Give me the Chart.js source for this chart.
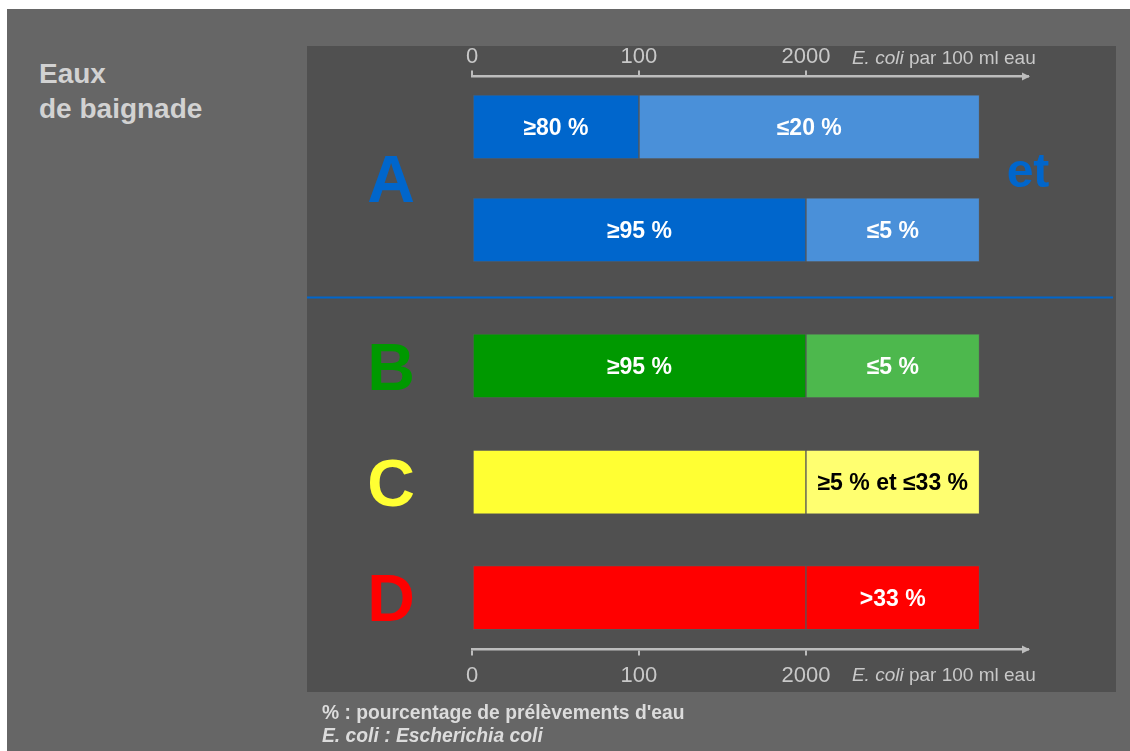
<!DOCTYPE html>
<html lang="fr">
<head>
<meta charset="utf-8">
<title>Eaux de baignade</title>
<script src="https://cdn.jsdelivr.net/npm/chart.js@4.4.1/dist/chart.umd.min.js"></script>
<style>
    html, body { margin: 0; padding: 0; }
    body {
        width: 1130px; height: 751px; background: #666666;
        position: relative; overflow: hidden;
        font-family: "Liberation Sans", Arial, sans-serif;
    }
    .strip-top { position: absolute; left: 0; top: 0; width: 1130px; height: 9px; background: #fff; }
    .strip-left { position: absolute; left: 0; top: 0; width: 7px; height: 751px; background: #fff; }
    .title {
        position: absolute; left: 39px; top: 56px;
        color: #d2d2d2; font-weight: bold; font-size: 28px; line-height: 35px;
    }
    .panel {
        position: absolute; left: 307px; top: 46px; width: 809px; height: 646px;
        background: #505050;
    }
    .panel canvas { position: absolute; left: 0; top: 0; }
    .notes {
        position: absolute; left: 322px; top: 701px;
        color: #dcdcdc; font-weight: bold; font-size: 19.3px; line-height: 23px;
    }
</style>
</head>
<body>
<div class="strip-top"></div>
<div class="strip-left"></div>
<div class="title">Eaux<br>de baignade</div>
<div class="panel"><canvas id="classChart" width="809" height="700"></canvas></div>
<div class="notes">% : pourcentage de prélèvements d'eau<br><i>E. coli : Escherichia coli</i></div>

<script>
// Rows (one bar per row), top to bottom
const rowClass = ['A', 'A', 'B', 'C', 'D'];
const rowPos = [0, 1, 2.32, 3.447, 4.568];

// x axis: 0 / 100 / 2000 E. coli per 100 ml, equally spaced
const tickValues = [0, 1, 2];
const tickLabels = ['0', '100', '2000'];
const axisEnd = 3.33;

// segment boundaries on the x axis
const lowStart = [0, 0, 0, 0, 0];
const lowEnd = [1, 2, 2, 2, 2];
const highEnd = [3.04, 3.04, 3.04, 3.04, 3.04];

const lowText = ['≥80 %', '≥95 %', '≥95 %', '', ''];
const highText = ['≤20 %', '≤5 %', '≤5 %', '≥5 % et ≤33 %', '>33 %'];

const lowColors = ['#0066cc', '#0066cc', '#009900', '#ffff33', '#ff0000'];
const highColors = ['#4a90d9', '#4a90d9', '#4db84d', '#ffff70', '#ff0000'];
const textColors = ['#ffffff', '#ffffff', '#ffffff', '#000000', '#ffffff'];

// class letters on the left
const classNames = ['A', 'B', 'C', 'D'];
const classPos = [0.5, 2.32, 3.447, 4.568];
const classColors = ['#0066cc', '#009900', '#ffff33', '#ff0000'];

const separatorPos = 1.655;
const axisColor = '#bdbdbd';
const font = '"Liberation Sans", Arial, sans-serif';

// Draws letters, bar labels, separator, arrows and unit text
const annotations = {
    id: 'annotations',
    afterDraw(chart) {
        const ctx = chart.ctx;
        const xs = chart.scales.x;
        const ys = chart.scales.y;
        ctx.save();

        // blue separator between A and B
        const sy = ys.getPixelForValue(separatorPos);
        ctx.strokeStyle = '#0066cc';
        ctx.lineWidth = 2;
        ctx.beginPath();
        ctx.moveTo(0, sy);
        ctx.lineTo(chart.width - 3, sy);
        ctx.stroke();

        // class letters
        ctx.textAlign = 'center';
        ctx.textBaseline = 'alphabetic';
        ctx.font = 'bold 66px ' + font;
        classNames.forEach((c, i) => {
            ctx.fillStyle = classColors[i];
            ctx.fillText(c, 84, ys.getPixelForValue(classPos[i]) + 0.358 * 66);
        });
        ctx.fillStyle = '#0066cc';
        ctx.font = 'bold 48px ' + font;
        ctx.fillText('et', xs.getPixelForValue(axisEnd), ys.getPixelForValue(classPos[0]) + 9);

        // labels inside the bars
        ctx.font = 'bold 23px ' + font;
        [lowText, highText].forEach((texts, d) => {
            const meta = chart.getDatasetMeta(d);
            meta.data.forEach((bar, i) => {
                if (!texts[i]) return;
                const cx = (bar.x + bar.base) / 2;
                ctx.fillStyle = textColors[i];
                ctx.fillText(texts[i], cx, bar.y + 0.358 * 23);
            });
        });

        // arrow heads and unit text on both axes
        ['x', 'x2'].forEach(id => {
            const s = chart.scales[id];
            const ay = id === 'x' ? s.top : s.bottom;
            const ax = s.getPixelForValue(axisEnd);
            ctx.fillStyle = axisColor;
            ctx.beginPath();
            ctx.moveTo(ax + 2, ay);
            ctx.lineTo(ax - 6, ay - 4);
            ctx.lineTo(ax - 6, ay + 4);
            ctx.closePath();
            ctx.fill();

            const ty = id === 'x' ? ay + 26 : ay - 18;
            let tx = s.getPixelForValue(tickValues[2]) + 46;
            ctx.textAlign = 'left';
            ctx.textBaseline = 'middle';
            ctx.fillStyle = '#c8c8c8';
            ctx.font = 'italic 19px ' + font;
            ctx.fillText('E. coli', tx, ty);
            tx += ctx.measureText('E. coli ').width;
            ctx.font = '19px ' + font;
            ctx.fillText('par 100 ml eau', tx, ty);
        });
        ctx.restore();
    }
};

function xAxis(position, padding) {
    return {
        type: 'linear',
        position: position,
        min: 0,
        max: axisEnd,
        afterBuildTicks: scale => {
            scale.ticks = tickValues.map(v => ({ value: v }));
        },
        ticks: {
            callback: (value, index) => tickLabels[index],
            color: '#c8c8c8',
            font: { size: 22, family: font },
            padding: padding,
            maxRotation: 0,
            autoSkip: false
        },
        grid: {
            drawOnChartArea: false,
            drawTicks: true,
            tickLength: 6,
            color: axisColor,
            lineWidth: 2
        },
        border: { display: true, color: axisColor, width: 2.5 }
    };
}

new Chart(document.getElementById('classChart'), {
    type: 'bar',
    data: {
        datasets: [
            {
                label: 'sous le seuil',
                data: rowPos.map((y, i) => ({ x: [lowStart[i], lowEnd[i]], y: y })),
                backgroundColor: lowColors,
                borderColor: 'rgba(90, 90, 90, 0.7)',
                borderWidth: 1,
                borderSkipped: false,
                barThickness: 64,
                maxBarThickness: 64,
                grouped: false
            },
            {
                label: 'au-dessus du seuil',
                data: rowPos.map((y, i) => ({ x: [lowEnd[i], highEnd[i]], y: y })),
                backgroundColor: highColors,
                borderColor: 'rgba(90, 90, 90, 0.7)',
                borderWidth: 1,
                borderSkipped: false,
                barThickness: 64,
                maxBarThickness: 64,
                grouped: false
            }
        ]
    },
    options: {
        indexAxis: 'y',
        responsive: false,
        animation: false,
        layout: { padding: { left: 165, right: 88, top: -2, bottom: 50 } },
        plugins: {
            legend: { display: false },
            tooltip: { enabled: false }
        },
        scales: {
            y: { type: 'linear', reverse: true, offset: false, min: -0.49, max: 5.073, display: false },
            x: xAxis('bottom', 7),
            x2: xAxis('top', 0)
        }
    },
    plugins: [annotations]
});
</script>
</body>
</html>
